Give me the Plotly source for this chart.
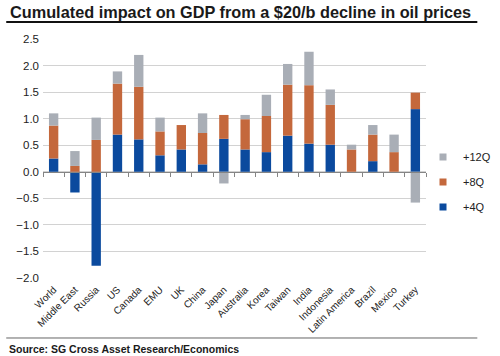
import plotly.graph_objects as go

categories = ["World", "Middle East", "Russia", "US", "Canada", "EMU", "UK", "China",
              "Japan", "Australia", "Korea", "Taiwan", "India", "Indonesia",
              "Latin America", "Brazil", "Mexico", "Turkey"]
# increments stacked (relative): +4Q, then +8Q on top, then +12Q
q4 = [0.25, -0.39, -1.77, 0.70, 0.61, 0.31, 0.42, 0.14, 0.62, 0.42, 0.37, 0.68,
      0.53, 0.51, 0.00, 0.20, 0.00, 1.18]
q8 = [0.62, 0.11, 0.60, 0.96, 0.99, 0.45, 0.46, 0.59, 0.45, 0.57, 0.68, 0.96,
      1.10, 0.75, 0.42, 0.50, 0.37, 0.31]
q12 = [0.23, 0.28, 0.42, 0.23, 0.60, 0.26, 0.00, 0.37, -0.22, 0.08, 0.40, 0.39,
       0.63, 0.29, 0.09, 0.18, 0.33, -0.58]
y_ticks = [2.5, 2.0, 1.5, 1.0, 0.5, 0.0, -0.5, -1.0, -1.5, -2.0]
series = [("+4Q", q4, "#0b4a9e", 3), ("+8Q", q8, "#c4683c", 2), ("+12Q", q12, "#a9aeb6", 1)]

FONT = "Liberation Sans, Arial, sans-serif"

fig = go.Figure()
for name, vals, color, rank in series:
    fig.add_bar(x=categories, y=vals, name=name, marker_color=color,
                marker_line_width=0, legendgroup=name, showlegend=False)
for name, vals, color, rank in series:
    # legend swatch (small square, as in the original legend)
    fig.add_scatter(x=[None], y=[None], mode="markers", name=name,
                    marker=dict(symbol="square", size=7, color=color),
                    legendgroup=name, legendrank=rank, hoverinfo="skip")
# helper trace that carries the zero-line axis (ticks between categories)
fig.add_scatter(x=categories, y=[None] * len(categories), xaxis="x2", mode="markers",
                marker_opacity=0, showlegend=False, hoverinfo="skip")

y0 = -2.0
y1 = 2.5
zero_pos = (0 - y0) / (y1 - y0)

fig.update_layout(
    width=500, height=356, autosize=False,
    margin=dict(l=43, r=63, t=39, b=78),
    paper_bgcolor="white", plot_bgcolor="white",
    barmode="relative", bargap=0.56,
    font=dict(family=FONT, color="#222222"),
    xaxis=dict(type="category", range=[-0.5, 17.5], showgrid=False, showline=False,
               ticks="", tickangle=-45, ticklabelstandoff=3,
               tickfont=dict(size=10, family=FONT, color="#222"),
               zeroline=False, categoryarray=categories, categoryorder="array"),
    xaxis2=dict(type="category", overlaying="x", anchor="free", position=zero_pos,
                side="bottom", range=[-0.5, 17.5], showgrid=False, showline=True,
                linecolor="#858585", linewidth=1.3, ticks="outside", ticklen=4,
                tickwidth=1, tickcolor="#858585", tickson="boundaries",
                showticklabels=False, zeroline=False, categoryarray=categories,
                categoryorder="array"),
    yaxis=dict(range=[y0, y1], tickvals=y_ticks, tickformat=".1f", showgrid=True,
               gridcolor="#d2d2d2", gridwidth=1.2, zeroline=False, showline=False,
               ticks="", ticklabelstandoff=3,
               tickfont=dict(size=11.5, family=FONT, color="#222")),
    legend=dict(xref="container", yref="container", x=0.876, xanchor="left",
                y=0.489, yanchor="middle", indentation=-15,
                traceorder="grouped", tracegroupgap=6,
                font=dict(size=11, family=FONT, color="#222"),
                bgcolor="rgba(0,0,0,0)", itemwidth=30),
    annotations=[
        dict(text="<b>Cumulated impact on GDP from a $20/b decline in oil prices</b>",
             xref="paper", yref="paper", x=-0.092, y=1.113, xanchor="left",
             yanchor="middle", showarrow=False,
             font=dict(size=16.3, family=FONT, color="#1a1a1a")),
        dict(text="<b>Source: SG Cross Asset Research/Economics</b>",
             xref="paper", yref="paper", x=-0.094, y=-0.297, xanchor="left",
             yanchor="middle", showarrow=False,
             font=dict(size=10.5, family=FONT, color="#1a1a1a")),
    ],
    shapes=[
        dict(type="line", xref="paper", yref="paper", x0=-0.096, x1=1.134,
             y0=1.071, y1=1.071, line=dict(color="#111111", width=2)),
        dict(type="line", xref="paper", yref="paper", x0=-0.096, x1=1.134,
             y0=-0.251, y1=-0.251, line=dict(color="#666666", width=1)),
    ],
)

fig.write_html("out.html", config={"displayModeBar": False},
               post_script="document.body.style.margin='0px';")
